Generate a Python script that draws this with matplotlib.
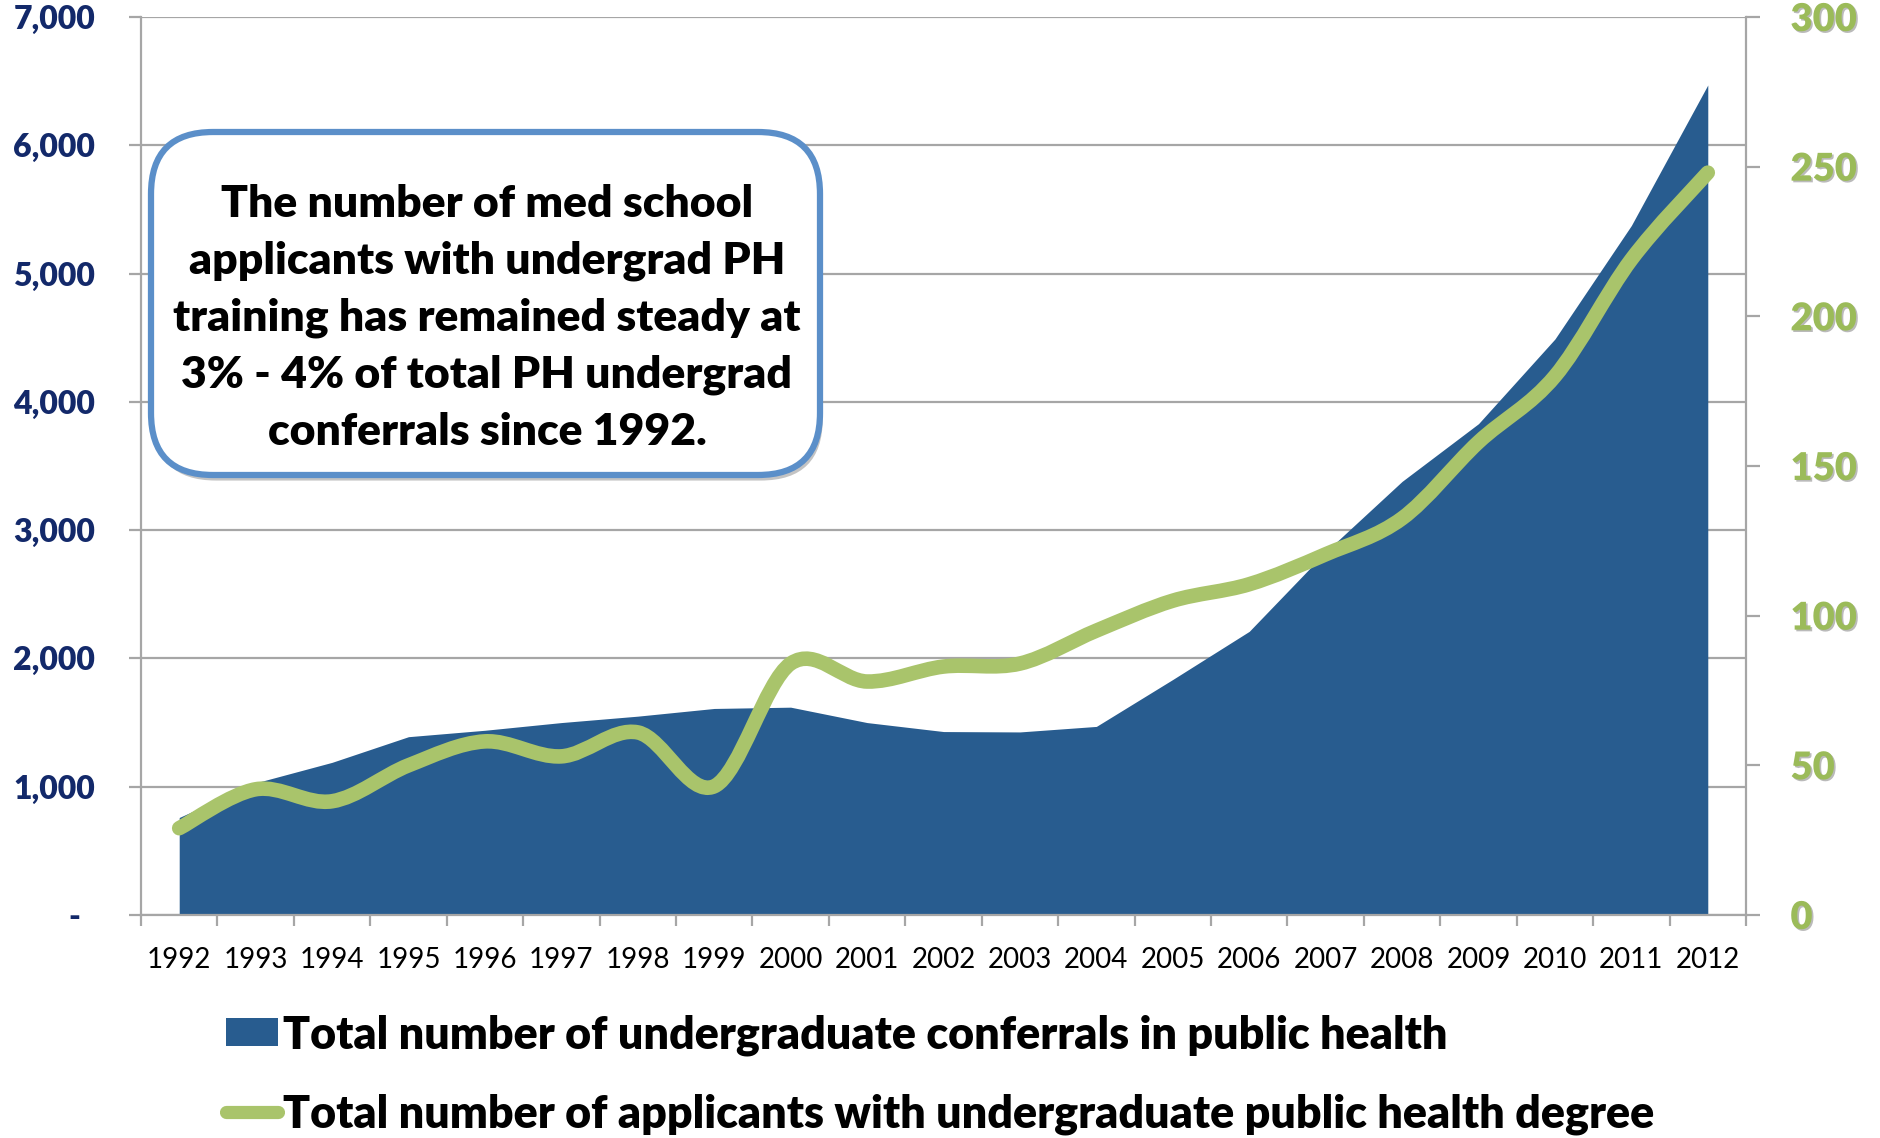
import numpy as np
import matplotlib
matplotlib.use("Agg")
import matplotlib.pyplot as plt
from matplotlib.path import Path
from matplotlib.patches import PathPatch, FancyBboxPatch, Patch
from matplotlib.lines import Line2D
from matplotlib.transforms import IdentityTransform
import matplotlib.patheffects as pe

# ---------------- data ----------------
years = ["1992", "1993", "1994", "1995", "1996", "1997", "1998", "1999", "2000",
         "2001", "2002", "2003", "2004", "2005", "2006", "2007", "2008", "2009",
         "2010", "2011", "2012"]
conferrals = [760, 1030, 1190, 1390, 1440, 1500, 1550, 1610, 1620, 1500, 1430,
              1427, 1470, 1836, 2211, 2830, 3380, 3830, 4490, 5375, 6470]
applicants = [29, 42, 38, 50, 58, 53, 61, 43, 84, 78, 83, 84, 95, 105, 110.5,
              120.5, 132.5, 158, 180, 219, 248]
left_ticks = [0, 1000, 2000, 3000, 4000, 5000, 6000, 7000]
left_labels = ["-  ", "1,000", "2,000", "3,000", "4,000", "5,000", "6,000", "7,000"]
right_ticks = [0, 50, 100, 150, 200, 250, 300]
label_area = "Total number of undergraduate conferrals in public health"
label_line = "Total number of applicants with undergraduate public health degree"
note = ("The number of med school\napplicants with undergrad PH\n"
        "training has remained steady at\n3% - 4% of total PH undergrad\n"
        "conferrals since 1992.")

# ---------------- style ----------------
AREA = "#285C8F"
GREEN = "#A9C46B"
GREEN_TXT = "#9BBB59"
NAVY = "#13296A"
GRID = "#A6A6A6"
FONT = "Lato"
BOLD = "heavy"

W, H, DPI = 1881, 1138, 100
fig = plt.figure(figsize=(W / DPI, H / DPI), dpi=DPI)
L, R, T, B = 141, 1746, 17, 915
ax = fig.add_axes([L / W, (H - B) / H, (R - L) / W, (B - T) / H])
ax2 = ax.twinx()

x = np.arange(len(years))
ax.fill_between(x, 0, conferrals, color=AREA, lw=0, zorder=2)
ax.set_xlim(-0.5, len(years) - 0.5)
ax.set_ylim(0, 7000)
ax2.set_ylim(0, 300)

# smooth line (Excel-like Bezier smoothing through the data points)
pts = np.column_stack([x, applicants]).astype(float)
ext = np.vstack([pts[0], pts, pts[-1]])
verts = [tuple(pts[0])]
codes = [Path.MOVETO]
for i in range(1, len(ext) - 2):
    p0, p1, p2, p3 = ext[i - 1], ext[i], ext[i + 1], ext[i + 2]
    c1 = p1 + (p2 - p0) / 6.0
    c2 = p2 - (p3 - p1) / 6.0
    verts += [tuple(c1), tuple(c2), tuple(p2)]
    codes += [Path.CURVE4] * 3
ax2.add_patch(PathPatch(Path(verts, codes), facecolor="none", edgecolor=GREEN,
                        lw=10.5, capstyle="round", joinstyle="round", zorder=3))

# grid & spines
ax.set_axisbelow(True)
ax.yaxis.grid(True, color=GRID, lw=1.6)
for s in ["top", "right"]:
    ax.spines[s].set_visible(False)
for s in ["left", "bottom"]:
    ax.spines[s].set_color(GRID)
    ax.spines[s].set_linewidth(1.6)
for s in ["top", "left", "bottom"]:
    ax2.spines[s].set_visible(False)
ax2.spines["right"].set_color(GRID)
ax2.spines["right"].set_linewidth(1.6)

# x ticks
ax.set_xticks(np.arange(-0.5, len(years), 1.0))
ax.set_xticklabels([])
ax.set_xticks(x, minor=True)
ax.set_xticklabels(years, minor=True, fontsize=20, family=FONT, color="black")
ax.tick_params(axis="x", which="major", length=8, width=1.6, color=GRID, direction="out")
ax.tick_params(axis="x", which="minor", length=0, pad=23)

# left y ticks
ax.set_yticks(left_ticks)
ax.set_yticklabels(left_labels, fontsize=23, family=FONT, fontweight=BOLD, color=NAVY)
ax.tick_params(axis="y", length=9, width=1.6, color=GRID, pad=24)
for lab in ax.get_yticklabels():
    lab.set_va("center_baseline")

# right y ticks
ax2.set_yticks(right_ticks)
ax2.set_yticklabels([str(v) for v in right_ticks], fontsize=27.5, family=FONT,
                    fontweight=BOLD, color=GREEN_TXT)
ax2.tick_params(axis="y", length=10, width=1.6, color=GRID, pad=22)
for lab in ax2.get_yticklabels():
    lab.set_va("center_baseline")
    lab.set_path_effects([pe.withSimplePatchShadow(offset=(1.2, -1.2),
                                                   shadow_rgbFace="#666666", alpha=0.45)])

# annotation box (pixel coordinates)
bx0, bx1, by0, by1 = 151, 820, 132, 475
box = FancyBboxPatch((bx0, H - by1), bx1 - bx0, by1 - by0,
                     boxstyle="round,pad=0,rounding_size=62",
                     transform=IdentityTransform(), facecolor="white",
                     edgecolor="#5B8FC9", lw=4.5, zorder=10)
box.set_path_effects([pe.SimplePatchShadow(offset=(2, -4), shadow_rgbFace="#555555", alpha=0.35),
                      pe.Normal()])
fig.patches.append(box)
fig.text(487 / W, (H - 318) / H, note, ha="center", va="center", fontsize=32,
         family=FONT, fontweight=BOLD, color="black", linespacing=1.5, zorder=11)

# legend
handles = [Patch(facecolor=AREA, edgecolor="none"),
           Line2D([], [], color=GREEN, lw=9.5, solid_capstyle="round")]
leg = fig.legend(handles, [label_area, label_line], loc="upper left",
                 bbox_to_anchor=(226 / W, (H - 1014) / H), frameon=False,
                 prop={"family": FONT, "weight": BOLD, "size": 32.2},
                 handlelength=1.16, handleheight=0.6, handletextpad=0.12,
                 labelspacing=0.84, borderpad=0, borderaxespad=0)

fig.savefig("out.png", dpi=DPI)
